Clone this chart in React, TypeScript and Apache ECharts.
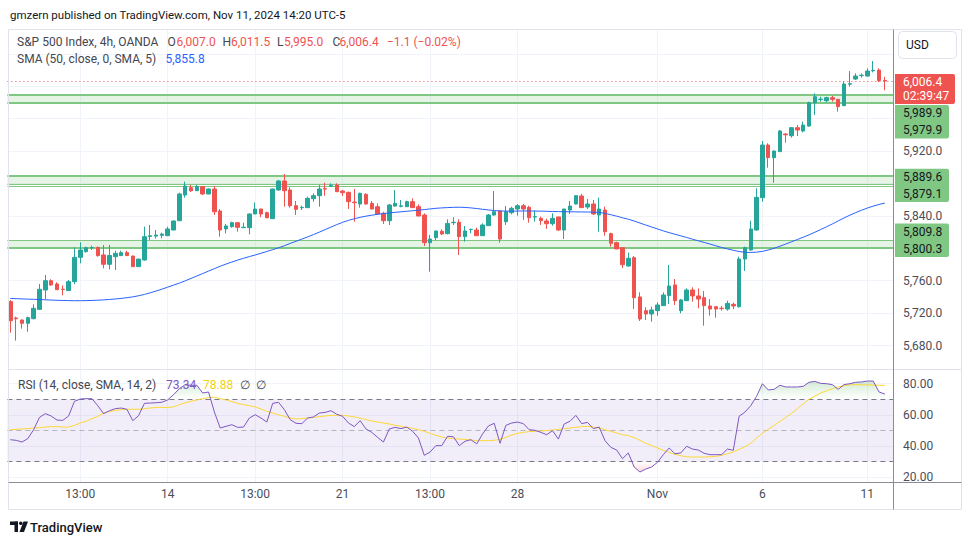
import React, { useEffect, useRef } from "react";
import * as echarts from "echarts";

const OPEN = [5734.1,5714.0,5711.5,5707.4,5713.1,5724.6,5748.5,5760.0,5755.9,5749.5,
 5747.7,5758.8,5788.8,5795.8,5800.3,5801.1,5791.7,5780.2,5789.6,5790.9,
 5794.6,5790.4,5777.3,5785.5,5814.5,5815.0,5816.0,5815.5,5822.5,5834.0,
 5865.7,5874.8,5871.0,5876.0,5867.0,5873.1,5846.0,5823.8,5826.6,5831.6,
 5825.4,5825.4,5842.3,5848.4,5843.9,5836.5,5871.9,5883.0,5871.9,5852.5,
 5850.0,5850.1,5861.2,5864.9,5873.5,5876.5,5878.0,5870.6,5869.0,5857.0,
 5854.6,5866.5,5855.4,5851.3,5843.1,5834.0,5852.1,5851.7,5851.3,5857.5,
 5851.3,5841.0,5806.9,5813.1,5820.9,5818.0,5831.5,5832.0,5814.3,5823.0,
 5822.5,5815.5,5827.9,5841.0,5846.0,5832.8,5843.9,5848.4,5852.5,5850.5,
 5838.5,5836.9,5833.6,5830.3,5838.6,5822.5,5847.2,5854.6,5864.5,5850.9,
 5854.6,5841.0,5847.2,5818.0,5806.9,5800.7,5778.1,5788.4,5739.9,5723.0,
 5718.9,5723.0,5729.2,5741.5,5754.7,5723.0,5735.3,5748.5,5741.1,5739.0,
 5728.8,5727.9,5726.0,5725.0,5730.8,5727.9,5786.7,5797.8,5822.5,5862.4,
 5927.4,5911.8,5919.2,5941.0,5938.9,5948.8,5944.7,5950.8,5979.6,5983.5,
 5982.1,5985.8,5983.8,5975.9,6002.5,6008.8,6013.0,6012.5,6019.0,6019.9,
 6007.0];

const HIGH = [5736.0,5715.6,5712.0,5715.6,5730.8,5755.9,5767.0,5761.7,5758.0,5754.2,
 5760.8,5801.1,5807.3,5802.0,5803.2,5802.0,5804.0,5804.0,5797.0,5797.0,
 5797.0,5790.9,5786.7,5826.6,5828.7,5822.5,5819.2,5826.6,5834.4,5868.6,
 5882.2,5878.0,5878.0,5876.8,5873.9,5876.8,5848.4,5829.9,5832.8,5832.0,
 5831.6,5842.7,5856.6,5848.8,5845.1,5873.5,5884.2,5891.6,5875.2,5858.3,
 5852.5,5863.7,5867.8,5878.0,5880.9,5880.0,5880.1,5871.9,5869.8,5873.1,
 5868.6,5868.0,5858.3,5855.4,5845.1,5854.6,5871.9,5859.5,5858.7,5861.6,
 5854.2,5843.1,5816.4,5821.7,5823.3,5835.7,5838.2,5835.7,5827.5,5824.2,
 5825.4,5830.7,5842.3,5870.6,5846.4,5852.1,5851.3,5854.6,5854.6,5852.5,
 5846.4,5839.0,5836.5,5843.1,5838.8,5848.8,5858.3,5865.7,5867.0,5860.8,
 5859.5,5862.4,5851.3,5819.2,5808.1,5801.0,5794.6,5790.4,5745.6,5727.1,
 5727.9,5733.3,5745.6,5779.3,5762.0,5737.4,5750.5,5751.8,5750.5,5747.3,
 5737.4,5728.5,5728.8,5735.3,5732.9,5789.6,5802.0,5834.0,5873.9,5932.3,
 5929.5,5920.5,5945.9,5941.8,5949.2,5952.1,5956.2,5980.9,5991.2,5987.0,
 5987.0,5987.9,5984.2,6005.5,6018.7,6015.8,6015.8,6022.0,6031.0,6022.0,
 6011.5];

const LOW = [5695.8,5686.0,5700.8,5697.0,5712.3,5723.8,5737.0,5753.8,5748.5,5741.9,
 5747.5,5755.5,5781.4,5794.6,5797.8,5789.6,5775.2,5774.0,5773.2,5790.4,
 5790.4,5776.9,5777.3,5784.7,5810.2,5812.2,5812.2,5815.1,5822.5,5833.6,
 5862.4,5869.4,5871.0,5865.7,5866.6,5841.0,5814.3,5818.4,5825.4,5820.5,
 5825.0,5817.2,5842.3,5838.2,5836.9,5836.5,5871.0,5851.3,5850.1,5841.0,
 5847.2,5850.0,5857.5,5851.3,5864.9,5876.0,5869.5,5864.5,5848.4,5832.8,
 5850.1,5854.0,5848.0,5842.0,5829.9,5828.7,5851.3,5850.5,5851.0,5850.0,
 5839.5,5802.8,5771.1,5809.8,5816.4,5817.2,5828.7,5791.7,5808.1,5818.4,
 5815.2,5815.2,5827.5,5840.2,5806.9,5828.7,5841.9,5840.2,5834.9,5831.6,
 5832.8,5828.7,5823.8,5827.9,5821.7,5811.4,5842.3,5854.2,5850.0,5848.4,
 5841.0,5820.5,5815.5,5801.9,5798.8,5775.6,5777.3,5725.0,5710.2,5711.5,
 5709.4,5716.8,5729.0,5731.2,5730.0,5719.7,5735.0,5734.1,5725.9,5704.5,
 5716.8,5714.3,5723.0,5723.0,5725.0,5726.7,5772.0,5797.0,5821.7,5857.5,
 5899.4,5880.9,5919.0,5930.3,5936.5,5938.5,5943.0,5950.0,5964.4,5980.9,
 5980.0,5980.9,5968.5,5975.5,5999.4,6007.6,6010.5,6011.7,6017.0,6005.0,
 5995.0];

const CLOSE = [5710.6,5713.0,5707.4,5714.4,5725.9,5749.3,5760.0,5754.7,5748.9,5749.1,
 5758.8,5788.8,5797.8,5800.7,5801.0,5790.9,5780.2,5791.1,5793.7,5794.6,
 5790.9,5777.3,5786.7,5814.3,5815.5,5816.3,5817.5,5823.8,5833.6,5867.0,
 5876.8,5871.0,5876.0,5867.0,5873.1,5845.1,5822.5,5827.5,5831.6,5825.8,
 5826.0,5842.3,5848.4,5842.3,5837.7,5873.1,5883.0,5871.0,5852.5,5848.0,
 5850.5,5861.6,5864.9,5873.1,5873.0,5877.6,5869.8,5868.6,5857.5,5856.2,
 5867.8,5854.6,5848.4,5842.3,5834.0,5853.4,5855.4,5852.3,5857.5,5850.1,
 5839.8,5806.9,5811.4,5821.3,5817.6,5830.7,5832.0,5814.3,5821.3,5823.3,
 5815.5,5828.7,5841.0,5845.1,5811.4,5845.1,5849.3,5852.5,5848.4,5837.7,
 5839.0,5834.0,5830.3,5836.9,5822.5,5848.4,5852.1,5864.9,5850.1,5854.6,
 5842.3,5848.4,5820.5,5806.1,5799.1,5779.7,5787.6,5739.0,5712.7,5718.9,
 5723.8,5730.0,5742.3,5753.4,5735.3,5736.2,5748.5,5741.1,5737.4,5729.2,
 5725.0,5725.0,5725.5,5732.0,5728.8,5786.7,5800.7,5823.8,5862.8,5927.4,
 5911.8,5920.0,5944.7,5940.0,5948.8,5945.9,5952.1,5979.6,5987.0,5984.0,
 5985.8,5983.8,5974.7,6002.7,6003.0,6012.5,6013.5,6018.7,6019.5,6007.0,
 6006.4];

const SMA50 = [5738.0,5737.8,5737.5,5737.2,5737.0,5736.7,5736.4,5736.1,5735.8,5735.6,
 5735.4,5735.3,5735.3,5735.4,5735.6,5735.9,5736.3,5736.8,5737.4,5738.1,
 5739.0,5740.0,5741.4,5743.0,5745.0,5747.2,5749.5,5752.0,5754.5,5757.0,
 5759.8,5762.8,5765.8,5768.8,5771.8,5774.8,5777.8,5780.5,5783.0,5785.4,
 5787.6,5789.7,5791.7,5793.8,5796.0,5798.2,5800.6,5803.1,5806.0,5808.6,
 5811.3,5814.0,5816.9,5819.9,5823.0,5826.1,5829.2,5832.0,5834.4,5836.4,
 5838.2,5839.6,5840.8,5841.9,5842.8,5843.6,5844.3,5845.0,5845.6,5846.3,
 5847.0,5847.7,5848.5,5849.3,5849.8,5850.2,5850.5,5850.6,5850.4,5849.8,
 5849.0,5848.1,5847.3,5846.5,5846.0,5845.8,5845.8,5845.9,5846.0,5846.0,
 5845.9,5845.8,5845.6,5845.4,5845.2,5845.1,5845.0,5844.9,5844.8,5844.7,
 5844.5,5844.3,5843.0,5841.4,5839.6,5837.6,5835.8,5833.6,5831.1,5828.6,
 5826.2,5823.8,5821.4,5819.3,5817.3,5815.3,5813.3,5811.2,5809.2,5807.2,
 5805.2,5803.1,5801.0,5799.2,5797.5,5796.0,5795.0,5794.8,5795.2,5796.2,
 5797.8,5800.0,5802.5,5805.2,5808.0,5810.8,5813.6,5816.6,5819.8,5823.1,
 5826.5,5830.0,5833.7,5837.4,5840.8,5844.0,5846.9,5849.6,5852.0,5854.0,
 5855.8];

const RSI = [44.1,43.7,42.6,44.8,50.5,58.4,60.8,59.3,56.7,56.5,
 59.3,68.7,70.2,70.4,70.4,65.9,60.8,62.7,64.0,64.4,
 63.6,56.3,59.5,67.4,67.6,67.8,68.1,69.6,73.0,76.8,
 79.4,79.0,79.0,74.0,74.7,61.9,51.6,52.7,53.7,52.0,
 52.2,58.0,60.1,58.0,55.4,67.4,68.1,63.4,57.0,54.6,
 54.4,58.0,58.7,61.2,61.6,62.7,60.4,59.1,54.8,52.5,
 56.3,51.0,48.8,45.6,42.6,51.0,52.0,51.2,52.2,49.5,
 45.2,34.1,36.2,40.3,40.3,46.3,46.0,40.3,43.1,44.1,
 41.4,47.8,52.9,54.6,41.8,53.3,54.8,55.4,54.4,50.5,
 50.1,48.8,47.3,49.9,44.5,54.2,55.9,59.7,54.4,55.2,
 51.2,52.2,43.5,39.2,37.5,31.9,35.6,26.6,23.4,25.3,
 26.6,29.6,34.5,38.8,35.1,35.6,39.9,38.1,37.5,35.4,
 34.5,34.5,34.5,38.1,37.3,59.1,61.8,65.9,71.9,80.0,
 76.0,76.4,79.0,77.9,77.9,77.9,78.3,80.9,81.5,80.2,
 80.0,79.4,76.4,79.4,80.0,80.9,81.1,81.7,81.7,74.7,
 73.34];

const RSI_MA = [50.5,50.7,51.0,51.2,51.6,51.8,52.2,52.5,52.5,52.2,
 52.2,53.3,54.8,55.9,57.6,59.1,61.2,62.1,62.9,63.4,
 63.6,63.6,63.6,64.0,64.4,64.8,64.8,64.8,65.1,66.6,
 67.8,68.7,69.6,70.4,71.1,71.3,70.4,69.6,68.5,67.4,
 66.6,65.9,65.1,63.8,62.3,61.2,60.1,59.1,58.0,57.4,
 57.6,58.0,58.4,58.9,59.3,59.7,59.7,59.7,59.3,58.7,
 58.0,57.0,56.1,55.4,54.8,54.2,53.3,52.7,52.0,51.4,
 50.5,49.5,48.2,46.9,45.8,45.2,44.7,44.5,44.3,43.9,
 43.5,43.5,43.5,43.7,44.3,45.6,47.1,48.2,48.8,49.3,
 49.5,49.7,49.9,50.3,50.7,51.2,51.6,52.0,52.5,52.7,
 52.2,51.6,50.5,49.5,48.4,47.3,46.7,45.4,43.7,41.8,
 40.3,38.8,37.3,36.0,34.7,33.8,33.2,33.0,33.0,33.0,
 33.2,33.4,34.1,35.1,36.2,37.9,39.6,41.8,45.2,48.2,
 50.7,53.3,55.9,58.4,61.0,64.0,67.0,70.0,72.1,74.0,
 75.5,76.8,77.9,78.7,79.2,79.4,79.3,79.2,79.1,79.0,
 78.88];

const SLOT_COUNT = 152;
const CATEGORIES = Array.from({ length: SLOT_COUNT }, (_, i) => String(i));
const TICK_INDEX = [12, 27, 42, 57, 72, 87, 111, 129, 147];
const TICK_TEXT = ["13:00", "14", "13:00", "21", "13:00", "28", "Nov", "6", "11"];
const PRICE_LABELS = [5680, 5720, 5760, 5840, 5920];
const RSI_LABELS = [20, 40, 60, 80];
const RSI_LEVELS = [70, 50, 30];
const ZONES = [[5989.9, 5979.9], [5889.6, 5879.1], [5809.8, 5800.3]];
const EXTRA_LEVEL = 5876.1;
const LAST_PRICE = 6006.4;
const COUNTDOWN = "02:39:47";

const FONT = "Roboto, 'Noto Sans', sans-serif";
const UP = "#26a69a";
const DOWN = "#ef5350";
const ZONE_COLOR = "#81c784";
const AXIS_TEXT = "#4a4e59";
const GRID = "#f0f3fa";

const fmt = (v: number) =>
  v.toLocaleString("en-US", { minimumFractionDigits: 1, maximumFractionDigits: 1 });

export default function App() {
  const ref = useRef<HTMLDivElement>(null);
  useEffect(() => {
    const chart = echarts.init(ref.current!, null, { renderer: "svg" });
    const zoneWidths = [[2, 2], [2, 1], [1, 2]];
    const zoneLines: any[] = [];
    ZONES.forEach((z, k) => {
      zoneLines.push({ yAxis: z[0], lineStyle: { color: ZONE_COLOR, width: zoneWidths[k][0], type: "solid" } });
      zoneLines.push({ yAxis: z[1], lineStyle: { color: ZONE_COLOR, width: zoneWidths[k][1], type: "solid" } });
    });
    zoneLines.push({ yAxis: EXTRA_LEVEL, lineStyle: { color: ZONE_COLOR, width: 1, type: "solid" } });
    zoneLines.push({ yAxis: LAST_PRICE, lineStyle: { color: DOWN, width: 1, type: [1, 3] } });

    const option: any = {
      animation: false,
      backgroundColor: "#ffffff",
      textStyle: { fontFamily: FONT },
      grid: [
        { left: 7.4, top: 21.34, width: 886.2, height: 356.58 },
        { left: 7.4, top: 352.5, width: 886.2, height: 156 },
        { left: 10.3, top: 30, width: 880.33, height: 453 },
      ],
      xAxis: [
        { type: "category", gridIndex: 0, data: CATEGORIES, boundaryGap: true, show: false },
        { type: "category", gridIndex: 1, data: CATEGORIES, boundaryGap: true, show: false },
        {
          type: "category", gridIndex: 2, data: CATEGORIES, boundaryGap: false,
          axisLine: { show: false }, axisTick: { show: false },
          axisLabel: {
            interval: (i: number) => TICK_INDEX.includes(i),
            formatter: (_v: string, i: number) => {
              const k = TICK_INDEX.indexOf(i);
              return k >= 0 ? TICK_TEXT[k] : "";
            },
            color: AXIS_TEXT, fontSize: 12, margin: 5, fontFamily: FONT,
          },
          splitLine: {
            show: true,
            interval: (i: number) => TICK_INDEX.includes(i),
            lineStyle: { color: GRID, width: 1 },
          },
        },
      ],
      yAxis: [
        {
          type: "value", gridIndex: 0, position: "right", min: 5640, max: 6080, interval: 40,
          axisLine: { show: false }, axisTick: { show: false },
          axisLabel: {
            formatter: (v: number) => (PRICE_LABELS.includes(v) ? fmt(v) : ""),
            color: AXIS_TEXT, fontSize: 12, margin: 9.4, align: "left", fontFamily: FONT,
          },
          splitLine: { show: true, showMinLine: false, showMaxLine: false, lineStyle: { color: GRID } },
        },
        {
          type: "value", gridIndex: 1, position: "right", min: 0, max: 100, interval: 20,
          axisLine: { show: false }, axisTick: { show: false },
          axisLabel: {
            formatter: (v: number) => (RSI_LABELS.includes(v) ? v.toFixed(2) : ""),
            color: AXIS_TEXT, fontSize: 12, margin: 9.4, align: "left", fontFamily: FONT,
          },
          splitLine: { show: true, showMinLine: false, showMaxLine: false, lineStyle: { color: GRID } },
        },
        { type: "value", gridIndex: 2, show: false, min: 0, max: 1 },
      ],
      series: [
        {
          type: "candlestick", xAxisIndex: 0, yAxisIndex: 0,
          data: OPEN.map((o, i) => [o, CLOSE[i], LOW[i], HIGH[i]]),
          barWidth: 4,
          itemStyle: { color: UP, color0: DOWN, borderColor: UP, borderColor0: DOWN, borderWidth: 1 },
          markArea: {
            silent: true,
            itemStyle: { color: "rgba(129,199,132,0.2)" },
            data: ZONES.map((z) => [{ yAxis: z[0] }, { yAxis: z[1] }]),
          },
          markLine: {
            silent: true, symbol: ["none", "none"], label: { show: false },
            z: 1,
            data: zoneLines,
          },
        },
        {
          type: "line", xAxisIndex: 0, yAxisIndex: 0, data: SMA50,
          symbol: "none", lineStyle: { color: "#2962ff", width: 1 }, z: 3,
        },
        {
          type: "line", xAxisIndex: 1, yAxisIndex: 1,
          data: RSI.map((v) => Math.max(v, 70)),
          symbol: "none", lineStyle: { width: 0, opacity: 0 },
          areaStyle: {
            origin: 70,
            color: new echarts.graphic.LinearGradient(0, 0, 0, 1, [
              { offset: 0, color: "rgba(76,175,80,0.35)" },
              { offset: 1, color: "rgba(76,175,80,0)" },
            ]),
          },
        },
        {
          type: "line", xAxisIndex: 1, yAxisIndex: 1,
          data: RSI.map((v) => Math.min(v, 30)),
          symbol: "none", lineStyle: { width: 0, opacity: 0 },
          areaStyle: {
            origin: 30,
            color: new echarts.graphic.LinearGradient(0, 0, 0, 1, [
              { offset: 0, color: "rgba(239,83,80,0)" },
              { offset: 1, color: "rgba(239,83,80,0.3)" },
            ]),
          },
        },
        {
          type: "line", xAxisIndex: 1, yAxisIndex: 1, data: RSI_MA,
          symbol: "none", lineStyle: { color: "#fdd835", width: 1 },
        },
        {
          type: "line", xAxisIndex: 1, yAxisIndex: 1, data: RSI,
          symbol: "none", lineStyle: { color: "#7e57c2", width: 1 }, z: 4,
          markArea: {
            silent: true,
            itemStyle: { color: "rgba(126,87,194,0.1)" },
            data: [[{ yAxis: RSI_LEVELS[0] }, { yAxis: RSI_LEVELS[2] }]],
          },
          markLine: {
            silent: true, symbol: ["none", "none"], label: { show: false }, z: 1,
            data: RSI_LEVELS.map((lv, k) => ({
              yAxis: lv,
              lineStyle: {
                color: k === 1 ? "rgba(120,123,134,0.5)" : "#787b86",
                width: 1, type: [5, 4],
              },
            })),
          },
        },
      ],
    };
    chart.setOption(option);

    const py = (p: number) => chart.convertToPixel({ yAxisIndex: 0 }, p) as number;
    const txt = (x: number, y: number, text: string, fill: string, size = 12, extra: any = {}) => ({
      type: "text", x, y, z: 20,
      style: { text, fill, fontSize: size, fontFamily: FONT, verticalAlign: "middle", align: "left", ...extra },
    });
    const gray = "#434651";
    const red = "#ef5350";
    const graphics: any[] = [
      txt(10, 15, "gmzern published on TradingView.com, Nov 11, 2024 14:20 UTC-5", "#131722", 11.5),
      { type: "rect", z: 15, shape: { x: 8.5, y: 29.5, width: 953, height: 480 }, style: { fill: "none", stroke: "#e0e3eb", lineWidth: 1 } },
      { type: "line", z: 15, shape: { x1: 8.5, y1: 369.5, x2: 961.5, y2: 369.5 }, style: { stroke: "#e0e3eb", lineWidth: 1 } },
      { type: "line", z: 15, shape: { x1: 8.5, y1: 482.5, x2: 961.5, y2: 482.5 }, style: { stroke: "#8a8d96", lineWidth: 1 } },
      { type: "line", z: 15, shape: { x1: 893.5, y1: 29.5, x2: 893.5, y2: 509.5 }, style: { stroke: "#8a8d96", lineWidth: 1 } },
      { type: "rect", z: 15, shape: { x: 898.5, y: 31.5, width: 58, height: 27, r: 4 }, style: { fill: "#ffffff", stroke: "#e0e3eb", lineWidth: 1 } },
      txt(906, 45, "USD", "#131722", 12),
      // legend line 1
      txt(17, 42, "S&P 500 Index, 4h, OANDA", gray),
      txt(167.5, 42, "O", gray), txt(176.5, 42, "6,007.0", red),
      txt(222.5, 42, "H", gray), txt(231, 42, "6,011.5", red),
      txt(277, 42, "L", gray), txt(284, 42, "5,995.0", red),
      txt(332.5, 42, "C", gray), txt(339.5, 42, fmt(LAST_PRICE), red),
      txt(387, 42, "−1.1 (−0.02%)", red),
      // legend line 2
      txt(17, 59, "SMA (50, close, 0, SMA, 5)", gray),
      txt(165.5, 59, fmt(SMA50[SMA50.length - 1]), "#2962ff"),
      // RSI legend
      txt(18, 384.5, "RSI (14, close, SMA, 14, 2)", gray),
      txt(166, 384.5, RSI[RSI.length - 1].toFixed(2), "#7e57c2"),
      txt(203, 384.5, RSI_MA[RSI_MA.length - 1].toFixed(2), "#f5d20f"),
      txt(240, 384.5, "∅", gray), txt(256, 384.5, "∅", gray),
      // logo
      { type: "rect", z: 20, shape: { x: 10, y: 521.5, width: 8, height: 3.5 }, style: { fill: "#131722" } },
      { type: "rect", z: 20, shape: { x: 14.5, y: 521.5, width: 3.5, height: 10.5 }, style: { fill: "#131722" } },
      { type: "circle", z: 20, shape: { cx: 20.8, cy: 523.3, r: 1.8 }, style: { fill: "#131722" } },
      { type: "polygon", z: 20, shape: { points: [[23.5, 521.5], [28, 521.5], [24, 532], [19.5, 532]] }, style: { fill: "#131722" } },
      txt(30, 527, "TradingView", "#131722", 13, { fontWeight: 500 }),
    ];

    // price-axis badges
    const redTop = py(LAST_PRICE) - 7;
    graphics.push({ type: "rect", z: 18, shape: { x: 895, y: redTop, width: 60, height: 30, r: [0, 2, 2, 0] }, style: { fill: DOWN } });
    graphics.push(txt(903, redTop + 8, fmt(LAST_PRICE), "#ffffff", 12));
    graphics.push(txt(903, redTop + 22, COUNTDOWN, "#ffffff", 12));
    const gH = 33.4;
    const tops = [
      Math.max(py(ZONES[0][0]) - 8, redTop + 31),
      py(ZONES[1][0]) - 7,
      py(ZONES[2][1]) + 9 - gH,
    ];
    ZONES.forEach((z, k) => {
      const t = tops[k];
      graphics.push({ type: "rect", z: 18, shape: { x: 895, y: t, width: 54, height: gH, r: [0, 2, 2, 0] }, style: { fill: "#81c784" } });
      graphics.push(txt(903, t + 8.4, fmt(z[0]), "#131722", 12));
      graphics.push(txt(903, t + 25, fmt(z[1]), "#131722", 12));
    });
    chart.setOption({ graphic: graphics });

    return () => chart.dispose();
  }, []);
  return (
    <div
      ref={ref}
      style={{ position: "absolute", left: 0, top: 0, width: 970, height: 545, background: "#fff" }}
    />
  );
}
